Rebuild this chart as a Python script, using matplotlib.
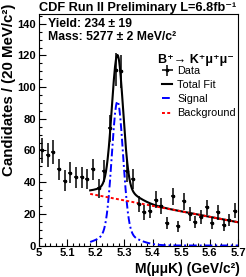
import numpy as np
import matplotlib
matplotlib.use("Agg")
import matplotlib.pyplot as plt
from matplotlib.lines import Line2D
from matplotlib.ticker import MultipleLocator

plt.rcParams['font.family'] = ['Liberation Sans', 'DejaVu Sans']

# ---- data ----
bin_lo, bin_hi, n_bins = 5.01, 5.69, 35
counts = [60, 57, 59, 48, 41, 46, 43, 43, 42, 48,
          36, 47, 74, 111, 110, 47, 42, 26, 21, 22,
          29, 25, 14, 31, 12, 28, 20, 15, 18, 24,
          14, 21, 13, 16, 22]

# fit model parameters
fit_range = (5.18, 5.70)
bkg_ends = (32.6, 14.7)          # background at fit_range ends
sig_mean = 5.276
sig_core = (83.0, 0.0195)        # amplitude, sigma
sig_tail = (8.0, 0.060)

title = "CDF Run II Preliminary L=6.8fb\u207b\u00b9"
yield_txt = "Yield: 234 \u00b1 19"
mass_txt = "Mass: 5277 \u00b1 2 MeV/c\u00b2"
decay_txt = "B\u207a\u2192 K\u207a\u03bc\u207a\u03bc\u207b"
legend_labels = ["Data", "Total Fit", "Signal", "Background"]

# ---- figure ----
fig = plt.figure(figsize=(2.46, 2.77), dpi=100)
ax = fig.add_axes([39/246, 1-245.5/277, 199/246, (245.5-14.3)/277])

centers = np.linspace(bin_lo, bin_hi, n_bins)
y = np.array(counts, dtype=float)
ax.errorbar(centers, y, yerr=np.sqrt(y), xerr=0.007, fmt='o', ms=1.6,
            color='black', ecolor='black', elinewidth=1.1, capsize=0, zorder=5)

m = np.linspace(fit_range[0], fit_range[1], 500)
bkg = np.interp(m, fit_range, bkg_ends)
sig = (sig_core[0]*np.exp(-0.5*((m-sig_mean)/sig_core[1])**2)
       + sig_tail[0]*np.exp(-0.5*((m-sig_mean)/sig_tail[1])**2))
ax.plot(m, bkg+sig, color='black', lw=1.5, zorder=3)
ax.plot(m, sig, color='blue', lw=1.4, ls=(0, (4, 1.5, 1, 1.5)), zorder=4)
ax.plot(m, bkg, color='red', lw=1.4, ls=(0, (1.5, 1.2)), zorder=4)

ax.set_xlim(5.0, 5.7)
ax.set_ylim(0, 146)
ax.xaxis.set_major_locator(MultipleLocator(0.1))
ax.xaxis.set_minor_locator(MultipleLocator(0.02))
ax.yaxis.set_major_locator(MultipleLocator(20))
ax.yaxis.set_minor_locator(MultipleLocator(5))
ax.tick_params(which='both', direction='in', top=False, right=False,
               labelsize=8, width=0.8, pad=2)
ax.tick_params(which='major', length=5)
ax.tick_params(which='minor', length=2.5)
ax.set_xticklabels([f"{v:g}" for v in ax.get_xticks()])
for lab in ax.get_xticklabels() + ax.get_yticklabels():
    lab.set_fontweight('bold')
for s in ax.spines.values():
    s.set_linewidth(0.8)

fig.text(39/246, 1-10.5/277, title, fontsize=9.2, fontweight='bold',
         ha='left', va='baseline')
fig.text(9/246, 1-4/277, "Candidates / (20 MeV/c\u00b2)", rotation=90,
         fontsize=10.8, fontweight='bold', ha='center', va='top')
fig.text(240/246, 1-276/277, "M(\u03bc\u03bcK) (GeV/c\u00b2)",
         fontsize=10, fontweight='bold', ha='right', va='bottom')

ax.text(0.045, 0.958, yield_txt, transform=ax.transAxes, fontsize=8.8,
        fontweight='bold', ha='left', va='center')
ax.text(0.045, 0.90, mass_txt, transform=ax.transAxes, fontsize=8.8,
        fontweight='bold', ha='left', va='center')
ax.text((158-39)/199, (245.5-60)/231.2, decay_txt, transform=ax.transAxes,
        fontsize=9, fontweight='bold', ha='left', va='center')

h_data = ax.errorbar([], [], yerr=[], xerr=[], fmt='o', ms=1.6, color='black',
                     elinewidth=1.1)
h_tot = Line2D([], [], color='black', lw=1.5)
h_sig = Line2D([], [], color='blue', lw=1.4, ls=(0, (4, 1.5, 1, 1.5)))
h_bkg = Line2D([], [], color='red', lw=1.4, ls=(0, (1.5, 1.2)))
ax.legend([h_data, h_tot, h_sig, h_bkg], legend_labels, loc='upper left',
          bbox_to_anchor=((162-39)/199, (245.5-66)/231.2), frameon=False,
          fontsize=7.8, handlelength=0.95, handletextpad=0.45,
          labelspacing=0.38, borderpad=0, borderaxespad=0)

fig.savefig("out.png", dpi=100)
